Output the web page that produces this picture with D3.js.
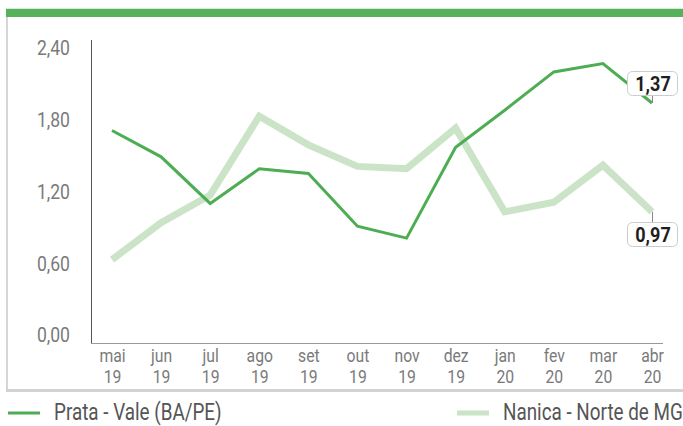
<!DOCTYPE html>
<html>
<head>
<meta charset="utf-8">
<script src="https://cdn.jsdelivr.net/npm/d3@7"></script>
<style>
  html, body { margin: 0; padding: 0; background: #fff; }
  svg { display: block; }
  text { font-family: Roboto, "Noto Sans", sans-serif; }
</style>
</head>
<body>
<svg id="chart" width="683" height="426"></svg>
<script>
// Monthly price series (R$/kg)
const months = ["mai 19", "jun 19", "jul 19", "ago 19", "set 19", "out 19",
                "nov 19", "dez 19", "jan 20", "fev 20", "mar 20", "abr 20"];
const prata  = [1.71, 1.49, 1.10, 1.39, 1.35, 0.91, 0.81, 1.57, 1.88, 2.20, 2.27, 1.94];
const nanica = [0.63, 0.94, 1.17, 1.83, 1.59, 1.41, 1.39, 1.73, 1.03, 1.11, 1.42, 1.03];
const seriesNames = ["Prata - Vale (BA/PE)", "Nanica - Norte de MG"];
const yTicks = [0, 0.6, 1.2, 1.8, 2.4];
const endLabels = ["1,37", "0,97"];

const svg = d3.select("#chart");
const fmt = d3.format(".2f");
const br = v => fmt(v).replace(".", ",");

// Narrow text: horizontal squeeze around the anchor point
function narrow(sel, x, y, sx) {
  return sel.attr("x", 0).attr("y", 0)
    .attr("transform", `translate(${x},${y}) scale(${sx},1)`);
}

// Card frame
svg.append("rect").attr("x", 6).attr("y", 8).attr("width", 677).attr("height", 1).attr("fill", "#d9ecd9");
svg.append("rect").attr("x", 6).attr("y", 9).attr("width", 677).attr("height", 8).attr("fill", "#55b15a");
svg.append("rect").attr("x", 6).attr("y", 17).attr("width", 2).attr("height", 374).attr("fill", "#d6d6d6");
svg.append("rect").attr("x", 6).attr("y", 389).attr("width", 677).attr("height", 3).attr("fill", "#d2d2d2");

// Scales
const x = d3.scalePoint().domain(months).range([112, 652]);
const y = d3.scaleLinear().domain([0, 2.4]).range([335, 48]);

// Y axis (labels only)
const yAxis = svg.append("g").attr("transform", "translate(91,0)")
  .call(d3.axisLeft(y).tickValues(yTicks).tickSize(0).tickFormat(br));
yAxis.select(".domain").remove();
yAxis.selectAll("text").each(function() {
  narrow(d3.select(this), -21, 0, 0.88)
    .attr("dy", "0.34em").attr("font-size", 20).attr("fill", "#7a7a7a");
});

// Axis lines
svg.append("line").attr("x1", 91.5).attr("x2", 91.5).attr("y1", 40).attr("y2", 343.5)
  .attr("stroke", "#555").attr("stroke-width", 1);
svg.append("line").attr("x1", 91).attr("x2", 663).attr("y1", 343.5).attr("y2", 343.5)
  .attr("stroke", "#999").attr("stroke-width", 1);

// X axis labels (month over year, one text with two lines)
const xAxis = svg.append("g").attr("transform", "translate(0,343)")
  .call(d3.axisBottom(x).tickSize(0).tickFormat(""));
xAxis.select(".domain").remove();
xAxis.selectAll(".tick").each(function(d) {
  const parts = d.split(" ");
  const t = narrow(d3.select(this).append("text"), 0, 0, 0.9)
    .attr("text-anchor", "middle").attr("font-size", 17.5).attr("fill", "#7a7a7a");
  parts.forEach((p, k) => {
    t.append("tspan").attr("x", 0).attr("y", 19 + 21 * k).text(p);
  });
});

// Lines
const line = d3.line().x((d, i) => x(months[i])).y(d => y(d));
svg.append("path").datum(nanica).attr("d", line).attr("fill", "none")
  .attr("stroke", "#cbe4c7").attr("stroke-width", 7).attr("stroke-linejoin", "miter");
svg.append("path").datum(prata).attr("d", line).attr("fill", "none")
  .attr("stroke", "#4dad52").attr("stroke-width", 3).attr("stroke-linejoin", "miter");

// End-of-series callouts
const last = months.length - 1;
function callout(val, text, boxTop) {
  const cx = x(months[last]);
  const py = y(val);
  const bh = 24, bw = 50;
  const lineEnd = boxTop > py ? boxTop : boxTop + bh;
  svg.append("line").attr("x1", cx + 0.5).attr("x2", cx + 0.5).attr("y1", py).attr("y2", lineEnd)
    .attr("stroke", "#888").attr("stroke-width", 1);
  svg.append("rect").attr("x", cx - 24.5).attr("y", boxTop + 0.5).attr("width", bw).attr("height", bh)
    .attr("rx", 5).attr("fill", "#fff").attr("stroke", "#ccc");
  narrow(svg.append("text"), cx + 1, boxTop + 20, 0.86)
    .attr("text-anchor", "middle").attr("font-size", 21).attr("font-weight", "bold")
    .attr("fill", "#1e1e1e").text(text);
}
callout(prata[last], endLabels[0], 71);
callout(nanica[last], endLabels[1], 222);

// Legend
const legend = [
  { name: seriesNames[0], color: "#4dad52", w: 3, x0: 8 },
  { name: seriesNames[1], color: "#cbe4c7", w: 5, x0: 457 }
];
legend.forEach(l => {
  svg.append("line").attr("x1", l.x0).attr("x2", l.x0 + 32).attr("y1", 413).attr("y2", 413)
    .attr("stroke", l.color).attr("stroke-width", l.w);
  narrow(svg.append("text"), l.x0 + 46, 420, 0.82)
    .attr("font-size", 23).attr("fill", "#555").text(l.name);
});
</script>
</body>
</html>
